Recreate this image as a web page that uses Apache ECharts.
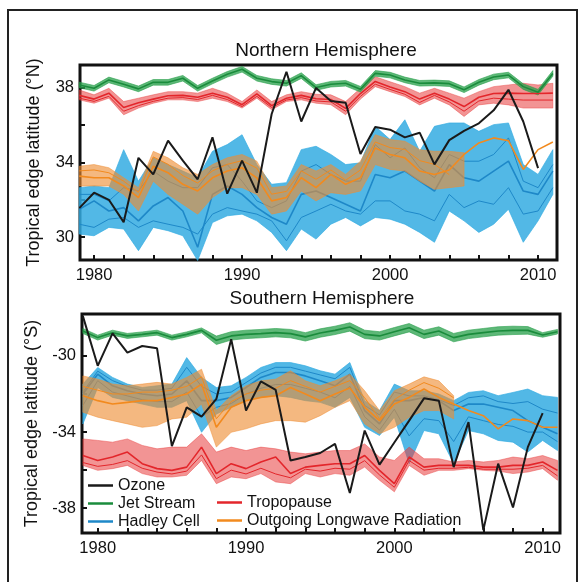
<!DOCTYPE html>
<html><head><meta charset="utf-8">
<script src="https://cdn.jsdelivr.net/npm/echarts@6/dist/echarts.min.js"></script>
<style>html,body{margin:0;padding:0;background:#fff}#c{width:587px;height:582px}</style>
</head><body><div id="c"></div>
<script>
// ---------- data ----------
const years = [1979,1980,1981,1982,1983,1984,1985,1986,1987,1988,1989,1990,1991,1992,1993,1994,1995,1996,1997,1998,1999,2000,2001,2002,2003,2004,2005,2006,2007,2008,2009,2010,2011];
const tickYears = [1980,1982,1984,1986,1988,1990,1992,1994,1996,1998,2000,2002,2004,2006,2008,2010];
const labelYears = [1980,1990,2000,2010];
const nTicks = [30,32,34,36,38];
const nLabels = [30,34,38];
const sTicks = [-38,-36,-34,-32,-30];
const sLabels = [-38,-34,-30];

// Northern Hemisphere
const nOzone = [31.55,32.38,32.0,30.8,34.25,33.36,35.17,34.1,33.1,35.35,32.33,34.1,32.38,36.6,38.87,36.2,38.0,37.3,37.2,34.46,35.9,35.76,35.35,35.6,33.9,35.2,35.7,36.1,36.8,37.9,36.2,33.7,null];
const nJet   = [38.16,37.98,38.43,38.2,37.95,38.3,38.3,38.52,37.98,38.37,38.73,39.0,38.52,38.34,38.25,38.66,38.02,38.2,38.25,37.93,38.78,38.69,38.43,38.25,38.27,38.23,37.9,38.3,38.59,38.69,38.07,37.77,38.78];
const nJetHi = [38.31,38.13,38.58,38.35,38.1,38.45,38.45,38.67,38.13,38.52,38.88,39.15,38.67,38.49,38.4,38.81,38.17,38.35,38.4,38.08,38.93,38.84,38.58,38.4,38.42,38.38,38.05,38.45,38.74,38.84,38.22,37.92,38.93];
const nJetLo = [38.01,37.83,38.28,38.05,37.8,38.15,38.15,38.37,37.83,38.22,38.58,38.85,38.37,38.19,38.1,38.51,37.87,38.05,38.1,37.78,38.63,38.54,38.28,38.1,38.12,38.08,37.75,38.15,38.44,38.54,37.92,37.62,38.63];
const nTropHi = [37.89,37.63,37.98,37.27,37.45,37.63,37.8,37.8,37.72,37.98,37.72,37.27,37.89,37.27,37.63,37.8,37.66,37.63,37.27,37.98,38.6,38.33,38.07,37.72,37.98,37.72,37.45,37.8,38.07,38.16,38.25,38.16,38.25];
const nTropLo = [37.36,37.18,37.45,36.56,36.92,37.18,37.36,37.36,37.27,37.45,37.27,36.92,37.45,36.83,37.27,37.36,37.18,37.1,36.56,37.4,38.07,37.8,37.54,37.09,37.45,37.09,36.47,37.09,37.18,37.09,36.92,36.92,36.92];
const nTrop   = [37.6,37.4,37.72,36.95,37.2,37.4,37.58,37.6,37.5,37.72,37.5,37.1,37.68,37.05,37.45,37.6,37.42,37.38,36.9,37.7,38.35,38.05,37.8,37.4,37.72,37.4,37.0,37.5,37.7,37.72,37.7,37.7,37.72];
const nTrop2  = [37.45,37.28,37.55,36.75,37.05,37.28,37.45,37.48,37.38,37.6,37.38,37.0,37.55,36.95,37.35,37.48,37.3,37.25,36.75,37.55,38.2,37.92,37.66,37.22,37.6,37.25,36.75,37.3,37.45,37.4,37.35,37.35,37.35];
const nHadHi = [32.65,32.74,32.65,34.69,33.0,34.25,33.89,33.54,33.18,34.6,34.96,35.49,33.89,32.83,32.92,34.69,34.87,34.43,33.89,33.98,35.94,35.23,36.29,34.6,35.94,36.12,36.12,35.67,36.03,36.12,33.89,33.36,34.69];
const nHadLo = [30.16,30.07,30.52,30.43,29.27,30.52,30.34,30.07,28.74,30.78,31.14,31.23,30.87,30.25,29.27,30.43,29.89,30.69,31.05,30.6,31.05,30.96,30.69,30.25,29.72,31.4,30.87,30.25,30.69,31.49,29.72,30.87,32.29];
const nHadA = [32.29,32.29,31.94,32.65,32.47,33.54,33.0,32.65,32.65,33.72,33.89,33.0,31.94,31.58,31.94,33.54,33.89,33.36,33.0,33.0,34.96,34.25,34.78,33.72,33.18,34.43,34.07,34.07,34.43,35.32,33.0,32.65,33.89];
const nHadB = [31.49,31.94,31.4,31.58,30.87,31.67,32.12,31.4,29.45,32.29,32.74,32.29,31.58,31.05,30.69,32.29,32.47,32.12,31.76,31.4,33.36,33.18,33.54,33.0,32.47,33.89,33.18,33.0,33.54,34.07,32.47,32.29,33.54];
const nHadC = [30.69,30.52,30.96,31.05,30.52,30.87,30.69,30.52,30.16,31.23,31.58,31.4,31.23,30.87,29.8,31.05,31.4,31.76,31.4,31.23,31.94,31.94,31.4,31.23,30.87,32.29,31.58,31.94,31.76,32.65,31.23,31.4,32.65];
const nOlrHi = [33.8,33.89,33.72,33.18,32.65,34.6,34.25,33.72,33.36,33.89,34.25,34.43,34.07,32.65,32.74,33.89,33.54,33.89,33.36,34.07,35.49,35.23,35.14,34.69,34.6,34.6,34.52,null,null,null,null,null,null];
const nOlrLo = [32.74,32.74,32.74,32.29,31.4,33.0,32.29,31.76,31.23,32.12,32.65,32.65,32.29,31.23,31.4,32.47,31.94,32.38,32.29,32.47,33.89,33.63,33.54,33.0,32.56,32.65,32.74,null,null,null,null,null,null];
const nOlr   = [33.27,33.18,33.18,32.74,32.12,33.8,33.45,32.83,32.47,33.18,33.54,33.72,33.18,31.94,32.12,33.18,32.65,33.36,32.83,33.18,34.78,34.43,34.25,33.54,33.36,33.6,34.43,35.05,35.32,35.17,33.63,34.69,35.1];
const nOlr2  = [33.55,33.6,33.45,33.0,32.4,34.3,33.9,33.3,32.9,33.55,33.9,34.1,33.7,32.3,32.45,33.55,33.1,33.6,33.05,33.6,35.1,34.8,34.7,34.1,33.9,33.35,null,null,null,null,null,null,null];

// Southern Hemisphere
const sOzone = [-27.91,-30.52,-28.82,-29.83,-29.48,-29.6,-34.74,-32.7,-33.19,-32.26,-29.13,-32.87,-31.34,-31.79,-35.49,-35.31,-35.1,-34.62,-37.2,-33.92,-35.71,-34.55,-33.4,-32.23,-32.35,-35.84,-33.48,-39.15,-35.66,-37.96,-34.79,-33.01,null];
const sJet   = [-28.69,-29.04,-28.78,-28.95,-28.87,-28.78,-29.04,-28.87,-28.66,-29.18,-28.95,-28.87,-28.83,-28.78,-28.83,-29.0,-28.8,-28.66,-28.48,-28.87,-28.95,-28.73,-28.52,-28.87,-28.69,-29.04,-28.87,-28.78,-28.69,-28.66,-28.66,-28.9,-28.73];
const sJetHi = [-28.56,-28.91,-28.65,-28.82,-28.74,-28.65,-28.91,-28.74,-28.53,-28.96,-28.73,-28.65,-28.61,-28.56,-28.61,-28.78,-28.58,-28.44,-28.26,-28.65,-28.73,-28.51,-28.3,-28.65,-28.47,-28.82,-28.65,-28.56,-28.47,-28.44,-28.46,-28.78,-28.61];
const sJetLo = [-28.82,-29.17,-28.91,-29.08,-29.0,-28.91,-29.17,-29.0,-28.79,-29.4,-29.17,-29.09,-29.05,-29.0,-29.05,-29.22,-29.02,-28.88,-28.7,-29.09,-29.17,-28.95,-28.74,-29.09,-28.91,-29.26,-29.09,-29.0,-28.91,-28.88,-28.86,-29.02,-28.85];
const sTropHi = [-34.36,-34.44,-34.53,-34.36,-34.7,-34.88,-34.79,-34.79,-34.09,-35.05,-34.79,-34.97,-34.79,-34.88,-35.05,-35.14,-35.05,-34.97,-34.97,-34.62,-35.31,-35.49,-34.79,-35.4,-35.4,-35.57,-35.49,-35.57,-35.49,-35.31,-35.4,-35.23,-35.49];
const sTrop   = [-35.23,-35.49,-35.31,-35.05,-35.66,-35.92,-36.01,-35.84,-34.79,-36.18,-35.66,-35.92,-35.57,-35.31,-36.18,-35.84,-35.75,-35.66,-35.66,-35.23,-36.01,-36.71,-35.31,-35.84,-35.75,-35.75,-35.75,-35.84,-35.84,-35.75,-35.75,-35.57,-36.01];
const sTrop2  = [-35.6,-35.8,-35.7,-35.5,-35.9,-36.1,-36.2,-36.05,-35.2,-36.45,-36.0,-36.2,-35.9,-36.2,-36.4,-35.95,-36.05,-35.9,-35.95,-35.5,-36.25,-36.9,-35.5,-36.0,-35.9,-35.9,-35.85,-35.95,-35.95,-35.95,-35.9,-35.75,-36.3];
const sTropLo = [-35.75,-36.01,-35.92,-35.75,-36.18,-36.36,-36.36,-36.27,-35.49,-36.71,-36.36,-36.45,-36.18,-36.62,-36.71,-36.18,-36.36,-36.18,-36.27,-35.84,-36.53,-37.14,-35.75,-36.27,-36.01,-36.01,-35.92,-36.01,-36.05,-36.18,-36.1,-35.92,-36.53];
const sHadHi = [-31.48,-30.61,-31.13,-31.48,-31.66,-31.57,-31.48,-30.09,-31.13,-31.66,-31.57,-31.13,-30.61,-30.35,-30.35,-30.52,-30.78,-30.96,-30.35,-32.35,-32.87,-31.48,-31.83,-31.83,-32.0,-32.35,-31.92,-31.83,-32.09,-31.92,-31.74,-32.09,-32.18];
const sHadLo = [-33.57,-31.66,-32.18,-32.35,-32.53,-32.7,-32.7,-32.35,-34.01,-33.05,-32.7,-32.35,-32.18,-32.09,-32.18,-32.35,-32.44,-32.7,-32.18,-33.75,-34.18,-33.22,-35.66,-33.92,-34.09,-35.66,-33.92,-34.09,-34.44,-34.53,-35.05,-34.44,-34.97];
const sHadA = [-31.9,-30.8,-31.3,-31.6,-31.8,-31.8,-31.7,-30.6,-31.6,-32.0,-31.9,-31.4,-30.9,-30.6,-30.6,-30.8,-31.0,-31.2,-30.6,-32.6,-33.1,-31.9,-32.1,-32.1,-32.3,-32.6,-32.2,-32.1,-32.4,-32.5,-32.4,-32.8,-33.0];
const sHadB = [-32.0,-30.96,-31.57,-31.83,-32.0,-32.09,-32.0,-31.31,-32.35,-32.35,-32.18,-31.66,-31.13,-30.87,-30.87,-31.05,-31.31,-31.57,-30.96,-32.87,-33.57,-32.35,-32.35,-32.18,-32.35,-32.87,-32.53,-32.53,-32.7,-32.87,-33.4,-33.75,-34.09];
const sHadC = [-32.6,-31.3,-31.9,-32.1,-32.3,-32.4,-32.4,-31.9,-33.2,-32.7,-32.5,-32.0,-31.7,-31.5,-31.5,-31.7,-31.9,-32.2,-31.6,-33.2,-33.9,-32.8,-34.2,-33.3,-33.4,-34.5,-33.2,-33.4,-33.6,-33.7,-34.0,-34.0,-34.5];
const sOlrHi = [-31.05,-31.22,-31.48,-31.57,-31.48,-31.39,-31.48,-31.13,-30.7,-32.87,-32.09,-31.57,-31.31,-31.22,-30.78,-31.31,-31.57,-31.31,-30.96,-31.83,-32.87,-31.83,-31.48,-31.1,-31.31,-32.09,null,null,null,null,null,null,null];
const sOlrLo = [-32.96,-33.22,-33.4,-33.57,-33.75,-33.66,-33.31,-33.22,-32.53,-34.79,-34.01,-33.83,-33.57,-33.4,-33.4,-33.48,-33.14,-32.7,-32.35,-33.57,-34.09,-33.75,-33.22,-32.87,-32.87,-33.31,null,null,null,null,null,null,null];
const sOlr   = [-32.09,-32.35,-32.53,-32.44,-32.35,-32.35,-32.18,-32.0,-31.48,-33.75,-32.7,-32.35,-32.18,-32.09,-31.66,-32.0,-32.35,-32.0,-31.69,-32.7,-33.4,-32.53,-32.18,-31.74,-32.18,-32.53,-32.87,-33.14,-33.83,-33.31,-33.4,-33.75,-33.75];
const sOlr2  = [-31.6,-31.8,-32.0,-32.0,-31.9,-31.9,-31.8,-31.6,-31.1,-33.3,-32.4,-32.0,-31.8,-31.7,-31.3,-31.6,-31.9,-31.6,-31.3,-32.2,-33.3,-32.3,-31.8,-31.4,-31.7,-32.2,null,null,null,null,null,null,null];

// ---------- styling ----------
const FONT = '"Liberation Sans", Arial, sans-serif';
const C = {
  ozone: '#1a1a1a',
  jetFill: 'rgba(40,160,75,0.75)', jet: '#1a8c3c',
  tropFill: 'rgba(232,60,60,0.55)', trop: '#e3262b',
  hadFill: 'rgba(52,172,226,0.85)', had: '#1e88c8',
  olrFill: 'rgba(238,140,50,0.62)', olr: '#f28a1e'
};

function pairs(ys) {
  const out = [];
  years.forEach((y, i) => { if (ys[i] != null) out.push([y, ys[i]]); });
  return out;
}
function band(ax, lo, hi, fill, z) {
  const data = [];
  years.forEach((y, i) => { if (lo[i] != null && hi[i] != null) data.push([y, lo[i], hi[i]]); });
  return {
    type: 'custom', xAxisIndex: ax, yAxisIndex: ax, z: z, silent: true, animation: false,
    data: data, encode: { x: 0, y: [1, 2] },
    renderItem: function (params, api) {
      if (params.dataIndex !== 0) return null;
      const top = data.map(d => api.coord([d[0], d[2]]));
      const bot = data.map(d => api.coord([d[0], d[1]])).reverse();
      return { type: 'polygon', shape: { points: top.concat(bot) },
               style: { fill: fill, stroke: fill, lineWidth: 0.8 } };
    }
  };
}
function line(name, ax, ys, color, width, z) {
  return { type: 'line', name: name, xAxisIndex: ax, yAxisIndex: ax, data: pairs(ys),
           symbol: 'none', showSymbol: false, silent: true, animation: false, z: z,
           lineStyle: { color: color, width: width }, itemStyle: { color: color } };
}
const plain = v => String(v);

function xAxis(grid, min, max) {
  return { type: 'value', gridIndex: grid, min: min, max: max,
    axisLine: { show: false }, splitLine: { show: false },
    axisTick: { show: true, inside: true, length: 5, customValues: tickYears, lineStyle: { color: '#111', width: 2 } },
    axisLabel: { customValues: labelYears, formatter: plain, fontSize: 16.5, color: '#111', fontFamily: FONT, margin: 7 } };
}
function yAxis(grid, min, max, ticks, labels, name) {
  return { type: 'value', gridIndex: grid, min: min, max: max,
    axisLine: { show: false }, splitLine: { show: false },
    axisTick: { show: true, inside: true, length: 5, customValues: ticks, lineStyle: { color: '#111', width: 2 } },
    axisLabel: { customValues: labels, formatter: plain, fontSize: 16.5, color: '#111', fontFamily: FONT, margin: 6 },
    name: name, nameLocation: 'middle', nameGap: 37, nameRotate: 90,
    nameTextStyle: { fontSize: 18, color: '#111', fontFamily: FONT } };
}

const series = [
  // North
  band(0, nHadLo, nHadHi, C.hadFill, 1),
  line('_nHadA', 0, nHadA, C.had, 1, 2),
  line('_nHadC', 0, nHadC, C.had, 1, 2),
  line('Hadley Cell', 0, nHadB, C.had, 1.6, 2),
  band(0, nOlrLo, nOlrHi, C.olrFill, 3),
  line('_nOlr2', 0, nOlr2, C.olr, 1, 4),
  line('Outgoing Longwave Radiation', 0, nOlr, C.olr, 1.6, 4),
  band(0, nTropLo, nTropHi, C.tropFill, 3),
  line('_nTrop2', 0, nTrop2, C.trop, 1, 4),
  line('Tropopause', 0, nTrop, C.trop, 1.6, 4),
  band(0, nJetLo, nJetHi, C.jetFill, 3),
  line('Jet Stream', 0, nJet, C.jet, 1.6, 4),
  line('Ozone', 0, nOzone, C.ozone, 2, 10),
  // South
  band(1, sHadLo, sHadHi, C.hadFill, 1),
  line('_sHadA', 1, sHadA, C.had, 1, 2),
  line('_sHadC', 1, sHadC, C.had, 1, 2),
  line('_sHadB', 1, sHadB, C.had, 1.6, 2),
  band(1, sOlrLo, sOlrHi, C.olrFill, 3),
  line('_sOlr2', 1, sOlr2, C.olr, 1, 4),
  line('_sOlr', 1, sOlr, C.olr, 1.6, 4),
  band(1, sTropLo, sTropHi, C.tropFill, 3),
  line('_sTrop2', 1, sTrop2, C.trop, 1, 4),
  line('_sTrop', 1, sTrop, C.trop, 1.6, 4),
  band(1, sJetLo, sJetHi, C.jetFill, 3),
  line('_sJet', 1, sJet, C.jet, 1.6, 4),
  line('_sOzone', 1, sOzone, C.ozone, 2, 10)
];

const legendCommon = {
  orient: 'vertical', icon: 'rect', itemWidth: 25, itemHeight: 2.5, itemGap: 1,
  selectedMode: false, padding: 0,
  textStyle: { fontSize: 16, color: '#111', fontFamily: FONT, lineHeight: 17, padding: [0, 0, 0, 0] }
};

const option = {
  animation: false,
  backgroundColor: '#fff',
  grid: [
    { left: 80, top: 65, width: 477, height: 195, show: true, borderColor: '#111', borderWidth: 3, backgroundColor: 'transparent' },
    { left: 82, top: 314, width: 478, height: 219, show: true, borderColor: '#111', borderWidth: 3, backgroundColor: 'transparent' }
  ],
  xAxis: [ xAxis(0, 1979.05, 2011.28), xAxis(1, 1978.94, 2011.17) ],
  yAxis: [
    yAxis(0, 28.77, 39.23, nTicks, nLabels, 'Tropical edge latitude (°N)'),
    yAxis(1, -39.3, -27.8, sTicks, sLabels, 'Tropical edge latitude (°S)')
  ],
  legend: [
    Object.assign({}, legendCommon, { left: 88, top: 477, data: ['Ozone', 'Jet Stream', 'Hadley Cell'] }),
    Object.assign({}, legendCommon, { left: 217, top: 494, data: ['Tropopause', 'Outgoing Longwave Radiation'] })
  ],
  graphic: [
    { type: 'rect', shape: { x: 8, y: 10, width: 569, height: 600 }, style: { fill: 'none', stroke: '#222', lineWidth: 2 }, silent: true, z: 100 },
    { type: 'text', x: 326, y: 51, style: { text: 'Northern Hemisphere', font: '19px ' + FONT, fill: '#111', textAlign: 'center', textVerticalAlign: 'middle' }, silent: true },
    { type: 'text', x: 322, y: 299, style: { text: 'Southern Hemisphere', font: '19px ' + FONT, fill: '#111', textAlign: 'center', textVerticalAlign: 'middle' }, silent: true }
  ],
  series: series
};

const chart = echarts.init(document.getElementById('c'), null, { renderer: 'canvas' });
chart.setOption(option);
</script>
</body></html>
